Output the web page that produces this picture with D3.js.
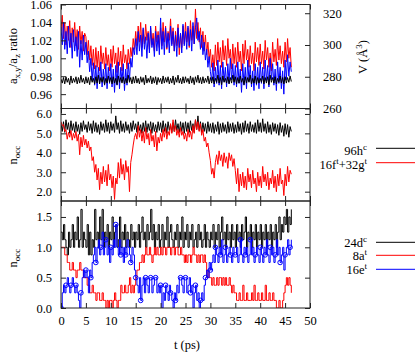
<!DOCTYPE html>
<html>
<head>
<meta charset="utf-8">
<script src="https://cdn.jsdelivr.net/npm/d3@7"></script>
<style>
  html, body { margin: 0; padding: 0; background: #fff; }
  svg { display: block; }
  svg text { font-family: "Liberation Serif", "Times New Roman", serif !important; }
</style>
</head>
<body>
<div id="chart"></div>
<script>
// ── Data (one sample every 0.25 ps, 20 samples = 5 ps per row) ───────────────
const timeStep = 0.25;
const xTicks = [0, 5, 10, 15, 20, 25, 30, 35, 40, 45, 50];

// top panel: lattice ratios (left axis) and volume (right axis)
const ratioTicks = [0.96, 0.98, 1.00, 1.02, 1.04, 1.06];
const volumeTicks = [260, 280, 300, 320];

const ratioRed = [
  1.030, 1.048, 1.022, 1.040, 1.015, 1.036, 1.020, 1.042, 1.012, 1.034, 1.018, 1.040, 1.014, 1.032, 1.010, 1.036, 1.016, 1.030, 1.008, 1.028,
  1.024, 1.004, 1.020, 0.998, 1.014, 0.992, 1.010, 0.988, 1.012, 0.990, 1.008, 0.986, 1.014, 0.994, 1.006, 0.988, 1.012, 0.992, 1.004, 0.986,
  1.010, 0.990, 1.014, 0.994, 1.006, 0.984, 1.012, 0.992, 1.008, 0.986, 1.015, 0.995, 1.004, 0.988, 1.010, 0.994, 1.012, 1.002, 1.022, 1.010,
  1.030, 1.014, 1.036, 1.018, 1.040, 1.012, 1.032, 1.016, 1.038, 1.020, 1.030, 1.010, 1.034, 1.015, 1.028, 1.008, 1.036, 1.018, 1.030, 1.012,
  1.034, 1.014, 1.040, 1.018, 1.036, 1.010, 1.030, 1.020, 1.044, 1.016, 1.034, 1.008, 1.030, 1.014, 1.038, 1.004, 1.028, 1.012, 1.036, 1.016,
  1.040, 1.018, 1.034, 1.012, 1.042, 1.020, 1.036, 1.016, 1.055, 1.022, 1.040, 1.018, 1.034, 1.012, 1.030, 1.008, 1.026, 1.004, 1.018, 0.998,
  1.010, 0.990, 1.004, 0.986, 1.015, 0.992, 1.018, 0.996, 1.012, 0.990, 1.020, 0.998, 1.014, 0.992, 1.022, 1.000, 1.010, 0.988, 1.016, 0.994,
  1.012, 0.990, 1.018, 0.996, 1.008, 0.986, 1.016, 0.994, 1.020, 0.998, 1.010, 0.990, 1.014, 0.994, 1.006, 0.986, 1.018, 0.996, 1.012, 0.992,
  1.016, 0.994, 1.008, 0.988, 1.020, 0.998, 1.012, 0.990, 1.006, 0.986, 1.018, 0.996, 1.010, 0.992, 1.022, 0.998, 1.014, 0.994, 1.008, 0.990,
  1.018, 0.996, 1.022, 1.000, 1.012, 0.990
];

const ratioBlue = [
  1.035, 1.015, 1.040, 1.010, 1.030, 1.005, 1.036, 1.012, 1.028, 1.000, 1.032, 1.008, 1.024, 1.002, 1.030, 0.990, 1.020, 0.998, 1.026, 1.004,
  1.018, 0.995, 1.008, 0.985, 1.000, 0.975, 0.995, 0.970, 0.992, 0.966, 0.990, 0.972, 0.996, 0.968, 0.988, 0.970, 0.994, 0.966, 0.990, 0.972,
  0.994, 0.968, 0.988, 0.962, 0.992, 0.970, 0.996, 0.966, 0.990, 0.974, 0.994, 0.964, 0.988, 0.970, 0.995, 0.975, 1.000, 0.990, 1.012, 1.004,
  1.022, 1.004, 1.030, 1.008, 1.026, 1.002, 1.034, 1.010, 1.024, 1.000, 1.028, 1.006, 1.036, 1.012, 1.022, 1.002, 1.030, 1.008, 1.026, 1.004,
  1.045, 1.010, 1.030, 1.004, 1.034, 1.012, 1.028, 1.006, 1.036, 1.014, 1.030, 1.008, 1.026, 1.002, 1.034, 1.012, 1.028, 1.006, 1.038, 1.014,
  1.030, 1.010, 1.036, 1.014, 1.032, 1.008, 1.040, 1.016, 1.034, 1.045, 1.020, 1.030, 1.010, 1.026, 1.004, 1.018, 0.998, 1.010, 0.990, 1.002,
  0.985, 0.975, 0.995, 0.968, 0.990, 0.972, 0.998, 0.970, 0.992, 0.966, 0.996, 0.974, 0.990, 0.968, 0.994, 0.972, 1.000, 0.976, 0.994, 0.970,
  0.992, 0.968, 0.996, 0.972, 0.988, 0.962, 0.994, 0.970, 0.990, 0.966, 0.998, 0.974, 0.992, 0.968, 0.986, 0.964, 0.994, 0.970, 0.990, 0.966,
  0.996, 0.972, 0.990, 0.966, 0.998, 0.974, 0.992, 0.968, 1.000, 0.976, 0.994, 0.970, 0.988, 0.964, 0.996, 0.972, 0.990, 0.966, 0.986, 0.960,
  0.998, 0.976, 1.004, 0.980, 0.996, 0.985
];

const volumeBlack = [
  278.5, 276.0, 279.5, 275.5, 280.0, 276.5, 279.0, 275.0, 280.5, 276.0, 279.0, 276.5, 280.0, 275.5, 279.5, 276.0, 281.0, 276.5, 279.0, 275.5,
  280.0, 276.0, 279.5, 275.0, 280.5, 276.5, 279.0, 275.5, 280.0, 276.0, 281.0, 275.5, 279.5, 276.5, 280.0, 275.0, 279.0, 276.0, 280.5, 276.5,
  279.5, 275.5, 280.0, 276.0, 279.0, 275.0, 280.5, 276.5, 279.5, 276.0, 280.0, 275.5, 279.0, 276.0, 281.0, 276.5, 279.5, 275.5, 280.0, 276.0,
  280.5, 276.0, 279.0, 275.5, 280.0, 276.5, 279.5, 275.0, 281.0, 276.0, 279.0, 276.5, 280.5, 275.5, 279.5, 276.0, 280.0, 275.0, 279.5, 276.5,
  279.0, 275.5, 280.5, 276.0, 279.5, 276.5, 280.0, 275.5, 279.0, 276.0, 280.5, 275.0, 279.5, 276.5, 281.0, 276.0, 279.0, 275.5, 280.0, 276.0,
  280.0, 276.5, 279.0, 275.5, 280.5, 276.0, 279.5, 275.0, 280.0, 276.5, 281.0, 276.0, 279.5, 275.5, 280.0, 276.0, 279.0, 276.5, 280.5, 275.5,
  279.5, 276.0, 280.0, 275.5, 279.0, 276.5, 281.0, 276.0, 279.5, 275.0, 280.5, 276.5, 279.0, 276.0, 280.0, 275.5, 279.5, 276.0, 281.0, 276.5,
  280.0, 275.5, 279.5, 276.0, 280.5, 276.5, 279.0, 275.0, 280.0, 276.0, 279.5, 276.5, 281.0, 275.5, 279.0, 276.0, 280.5, 275.5, 279.5, 276.0,
  279.0, 276.5, 280.5, 275.5, 279.5, 276.0, 280.0, 275.0, 281.0, 276.5, 279.5, 276.0, 280.0, 275.5, 279.0, 276.5, 280.5, 276.0, 279.5, 275.5,
  280.0, 276.0, 279.5, 276.5, 280.5, 277.0
];

// middle panel: occupation of 96h (black) and 16f+32g (red)
const occMidTicks = [2.0, 3.0, 4.0, 5.0, 6.0];

const occ96h = [
  5.50, 5.10, 5.60, 5.05, 5.70, 5.20, 5.55, 5.00, 5.65, 5.15, 5.50, 5.05, 5.60, 5.10, 5.45, 4.95, 5.55, 5.10, 5.65, 5.20,
  5.45, 5.05, 5.60, 5.15, 5.50, 5.00, 5.65, 5.10, 5.55, 5.05, 5.45, 4.95, 5.60, 5.15, 5.50, 5.05, 5.70, 5.10, 5.55, 5.00,
  5.60, 5.15, 5.50, 5.05, 5.90, 5.20, 5.55, 5.00, 5.65, 5.10, 5.50, 5.05, 5.60, 5.15, 5.45, 5.00, 5.55, 5.10, 5.65, 5.20,
  5.50, 5.05, 5.60, 5.15, 5.45, 5.00, 5.55, 5.10, 5.65, 5.05, 5.50, 5.15, 5.60, 5.00, 5.55, 5.10, 5.45, 5.05, 5.60, 5.15,
  5.55, 5.05, 5.65, 5.10, 5.50, 5.00, 5.60, 5.15, 5.45, 5.05, 5.55, 5.10, 5.70, 5.15, 5.50, 5.05, 5.60, 5.10, 5.55, 5.00,
  5.60, 5.10, 5.55, 5.05, 5.65, 5.15, 5.50, 5.05, 5.70, 5.20, 5.90, 5.15, 5.60, 5.05, 5.55, 5.10, 5.50, 5.00, 5.60, 5.10,
  5.50, 5.05, 5.55, 5.00, 5.45, 5.10, 5.60, 4.95, 5.50, 5.05, 5.55, 5.10, 5.45, 5.00, 5.60, 5.05, 5.50, 5.10, 5.55, 5.00,
  5.45, 5.05, 5.60, 5.10, 5.50, 4.95, 5.55, 5.05, 5.65, 5.10, 5.50, 5.00, 5.60, 5.10, 5.45, 5.05, 5.55, 5.00, 5.70, 5.10,
  5.55, 5.05, 5.75, 5.10, 5.50, 5.00, 5.60, 5.05, 5.45, 4.95, 5.55, 5.10, 5.50, 5.00, 5.45, 4.90, 5.55, 5.05, 5.40, 4.85,
  5.50, 4.95, 5.45, 4.80, 5.35, 5.10
];

const occ16f32g = [
  5.60, 5.40, 5.45, 5.10, 5.20, 4.70, 5.05, 4.80, 5.15, 4.65, 5.00, 4.75, 5.10, 4.60, 4.95, 3.90, 4.80, 4.30, 4.90, 4.40,
  4.70, 4.25, 4.60, 4.10, 4.30, 3.60, 3.80, 3.00, 3.40, 2.60, 3.20, 2.10, 3.00, 2.40, 3.30, 2.50, 3.10, 2.30, 3.40, 2.60,
  2.90, 2.20, 2.80, 1.60, 2.70, 2.40, 3.50, 2.70, 3.70, 2.90, 3.40, 2.60, 3.60, 3.00, 3.30, 2.00, 3.50, 3.90, 4.40, 4.80,
  5.00, 4.70, 5.40, 4.80, 5.20, 4.60, 5.10, 4.50, 5.30, 4.70, 5.00, 4.40, 5.20, 4.60, 4.90, 4.30, 5.10, 4.10, 4.80, 4.50,
  5.00, 4.60, 5.20, 4.80, 5.30, 4.70, 5.10, 4.90, 5.50, 5.00, 5.70, 5.10, 5.40, 4.90, 5.20, 4.80, 5.30, 4.90, 5.10, 4.70,
  5.00, 4.60, 5.20, 4.80, 5.10, 4.70, 5.40, 5.00, 5.70, 5.20, 5.60, 5.10, 5.50, 4.90, 5.20, 4.60, 4.80, 4.30, 4.50, 4.00,
  3.60, 2.90, 3.20, 2.70, 3.50, 3.90, 3.40, 4.10, 3.60, 3.90, 3.30, 4.00, 3.50, 3.80, 3.20, 4.00, 3.60, 3.90, 3.30, 3.70,
  3.10, 2.40, 3.20, 2.00, 2.90, 2.30, 3.00, 2.20, 2.80, 2.10, 3.20, 2.50, 2.90, 2.20, 3.10, 2.40, 2.70, 2.00, 3.00, 2.30,
  2.80, 2.20, 3.30, 2.50, 2.90, 2.30, 3.00, 2.10, 2.70, 2.40, 3.10, 2.20, 2.80, 2.00, 2.90, 2.30, 3.20, 2.40, 2.60, 1.80,
  2.90, 2.30, 3.30, 2.50, 3.10, 2.90
];

// bottom panel: occupation of 24d (black), 8a (red), 16e (blue)
const occLowTicks = [0.0, 0.5, 1.0, 1.5];

const occ24d = [
  1.25, 1.125, 1.375, 1.125, 1.0, 0.875, 1.25, 1.0, 1.125, 1.375, 1.0, 1.25, 1.125, 1.5, 1.0, 1.125, 1.625, 1.0, 1.25, 1.125,
  1.0, 1.375, 0.875, 1.25, 0.875, 1.125, 1.0, 1.625, 1.125, 1.25, 1.0, 1.5, 1.125, 1.625, 1.0, 1.25, 1.125, 1.375, 1.0, 1.25,
  1.125, 1.5, 1.0, 1.25, 1.375, 1.0, 1.125, 1.5, 1.0, 1.25, 1.125, 1.375, 1.0, 1.25, 1.125, 1.0, 1.375, 1.125, 1.25, 1.0,
  1.25, 1.125, 1.375, 1.0, 1.25, 1.5, 1.125, 1.25, 1.0, 1.375, 1.125, 1.25, 1.625, 1.125, 1.375, 1.0, 1.25, 1.125, 1.375, 1.0,
  1.125, 1.375, 1.0, 1.25, 1.125, 1.5, 1.0, 1.25, 1.375, 1.125, 1.0, 1.25, 1.125, 1.375, 1.0, 1.25, 1.125, 1.5, 1.0, 1.25,
  1.125, 1.375, 1.0, 1.25, 1.125, 1.375, 1.0, 1.125, 1.25, 1.0, 1.375, 1.125, 1.25, 1.0, 1.125, 1.375, 1.0, 1.25, 1.125, 1.0,
  1.25, 1.125, 1.375, 1.0, 1.25, 1.125, 1.375, 1.0, 1.25, 1.5, 1.125, 1.25, 1.0, 1.375, 1.125, 1.25, 1.0, 1.375, 1.125, 1.25,
  1.0, 1.375, 1.125, 1.25, 1.0, 1.375, 1.125, 1.25, 1.5, 1.0, 1.25, 1.125, 1.375, 1.0, 1.25, 1.125, 1.375, 1.0, 1.25, 1.125,
  1.375, 1.0, 1.25, 1.125, 1.375, 1.0, 1.25, 1.125, 1.375, 1.0, 1.25, 1.125, 1.375, 1.0, 1.25, 1.5, 1.125, 1.375, 1.25, 1.5,
  1.375, 1.625, 1.25, 1.5, 1.375, 1.625
];

const occ8a = [
  1.0, 1.0, 1.0, 0.875, 0.875, 0.75, 0.75, 0.625, 0.625, 0.75, 0.625, 0.625, 0.5, 0.625, 0.625, 0.75, 0.625, 0.625, 0.5, 0.5,
  0.5, 0.375, 0.375, 0.25, 0.25, 0.375, 0.25, 0.25, 0.125, 0.25, 0.25, 0.125, 0.125, 0.25, 0.125, 0.125, 0.0, 0.125, 0.0, 0.125,
  0.125, 0.0, 0.125, 0.25, 0.125, 0.0, 0.125, 0.125, 0.375, 0.25, 0.25, 0.375, 0.25, 0.25, 0.375, 0.5, 0.25, 0.375, 0.25, 0.375,
  0.5, 0.625, 0.625, 0.75, 0.75, 0.875, 0.75, 0.875, 1.0, 0.875, 0.875, 1.0, 0.875, 0.75, 0.875, 1.0, 0.875, 1.0, 0.875, 0.875,
  1.0, 0.875, 1.0, 1.0, 0.875, 1.0, 1.0, 1.0, 0.875, 1.0, 1.0, 0.875, 1.0, 1.0, 0.875, 0.875, 1.0, 0.875, 0.875, 0.75,
  0.875, 0.75, 0.875, 0.875, 0.75, 0.875, 1.0, 0.875, 0.875, 0.75, 0.875, 0.75, 0.875, 0.875, 0.75, 0.875, 0.75, 0.5, 0.625, 0.5,
  0.5, 0.375, 0.5, 0.375, 0.375, 0.5, 0.375, 0.5, 0.5, 0.375, 0.5, 0.375, 0.5, 0.375, 0.375, 0.5, 0.375, 0.25, 0.375, 0.25,
  0.25, 0.125, 0.125, 0.25, 0.125, 0.125, 0.375, 0.125, 0.125, 0.25, 0.125, 0.125, 0.125, 0.25, 0.125, 0.375, 0.125, 0.125, 0.25, 0.125,
  0.125, 0.25, 0.125, 0.125, 0.375, 0.125, 0.125, 0.25, 0.125, 0.125, 0.25, 0.125, 0.125, 0.0, 0.0, 0.125, 0.0, 0.0, 0.125, 0.25,
  0.375, 0.5, 0.375, 0.5, 0.375, 0.25
];

const occ16e = [
  0.0, 0.25, 0.375, 0.25, 0.375, 0.5, 0.375, 0.25, 0.375, 0.5, 0.375, 0.25, 0.375, 0.25, 0.125, 0.0, 0.25, 0.5, 0.625, 0.5,
  0.625, 0.5, 0.25, 0.625, 0.5, 0.75, 0.875, 1.0, 0.75, 1.0, 1.125, 0.875, 1.0, 1.25, 0.875, 1.0, 1.125, 0.875, 1.0, 0.75,
  1.0, 0.875, 1.125, 1.0, 1.375, 1.0, 0.875, 1.125, 0.875, 1.0, 0.75, 1.0, 0.875, 1.125, 1.0, 0.875, 0.75, 1.0, 0.875, 0.625,
  0.5, 0.375, 0.25, 0.5, 0.125, 0.375, 0.5, 0.25, 0.5, 0.375, 0.25, 0.5, 0.5, 0.25, 0.375, 0.5, 0.5, 0.25, 0.375, 0.25,
  0.375, 0.0, 0.25, 0.125, 0.375, 0.25, 0.125, 0.375, 0.25, 0.125, 0.0, 0.25, 0.125, 0.375, 0.25, 0.5, 0.5, 0.375, 0.25, 0.5,
  0.5, 0.25, 0.375, 0.5, 0.25, 0.375, 0.0, 0.25, 0.375, 0.125, 0.25, 0.0, 0.125, 0.25, 0.125, 0.375, 0.5, 0.625, 0.5, 0.75,
  0.625, 0.75, 0.875, 0.75, 1.0, 0.875, 0.75, 1.0, 0.875, 1.125, 0.75, 0.875, 1.0, 0.75, 0.875, 1.0, 0.875, 0.75, 1.0, 0.875,
  0.875, 1.0, 0.75, 0.875, 1.125, 0.875, 0.75, 1.0, 0.875, 1.0, 0.75, 0.875, 1.125, 0.875, 1.0, 0.75, 0.875, 1.0, 0.875, 0.75,
  1.0, 0.875, 0.75, 1.0, 0.875, 1.125, 0.875, 0.75, 1.0, 0.875, 1.0, 0.75, 0.875, 1.125, 0.875, 1.0, 0.75, 0.875, 1.0, 0.625,
  0.875, 1.0, 1.125, 0.875, 1.0, 1.125
];

// ── Layout ─────────────────────────────────────────────────────────────────
const width = 415, height = 353;
const plotLeft = 61, plotRight = 310;
const panels = {
  top: { y0: 4.5, y1: 108.5 },
  mid: { y0: 108.5, y1: 201 },
  low: { y0: 201, y1: 308 }
};
const fontSize = 12.5;
const serif = "Liberation Serif, Times New Roman, serif";
const tickLen = 5;

const svg = d3.select("#chart").append("svg")
  .attr("width", width).attr("height", height)
  .attr("font-family", serif);

const x = d3.scaleLinear().domain([0, 50]).range([plotLeft, plotRight]);
const yRatio  = d3.scaleLinear().domain([0.944, 1.06]).range([panels.top.y1, panels.top.y0]);
const yVolume = d3.scaleLinear().domain([260, 325.5]).range([panels.top.y1, panels.top.y0]);
const yMid    = d3.scaleLinear().domain([1.52, 6.28]).range([panels.mid.y1, panels.mid.y0]);
const yLow    = d3.scaleLinear().domain([0, 1.763]).range([panels.low.y1, panels.low.y0]);

const timeOf = i => i * timeStep;

// ── Helpers ────────────────────────────────────────────────────────────────
function clipFor(id, p) {
  svg.append("clipPath").attr("id", id)
    .append("rect")
    .attr("x", plotLeft).attr("y", p.y0)
    .attr("width", plotRight - plotLeft).attr("height", p.y1 - p.y0);
  return `url(#${id})`;
}

function styleAxis(g) {
  g.attr("font-family", serif);
  g.select(".domain").remove();
  g.selectAll("line").attr("stroke", "#222").attr("stroke-width", 1);
  g.selectAll("text").attr("fill", "#000").attr("font-size", fontSize).attr("font-family", serif);
}

function drawSeries(layer, values, yScale, color, curve) {
  const line = d3.line()
    .x((d, i) => x(timeOf(i)))
    .y(d => yScale(d))
    .curve(curve || d3.curveLinear);
  layer.append("path")
    .datum(values)
    .attr("fill", "none")
    .attr("stroke", color)
    .attr("stroke-width", 1)
    .attr("d", line);
}

function frame(p, yScale, yTicks, yFormat, showXLabels, rightScale, rightTicks) {
  const g = svg.append("g");

  // left axis with labels
  g.append("g").attr("transform", `translate(${plotLeft},0)`)
    .call(d3.axisLeft(yScale).tickValues(yTicks).tickSize(-tickLen).tickPadding(9).tickFormat(yFormat))
    .call(styleAxis);

  // right axis: mirror ticks or the volume scale
  if (rightScale) {
    g.append("g").attr("transform", `translate(${plotRight},0)`)
      .call(d3.axisRight(rightScale).tickValues(rightTicks).tickSize(-tickLen).tickPadding(13).tickFormat(d3.format("d")))
      .call(styleAxis);
  } else {
    g.append("g").attr("transform", `translate(${plotRight},0)`)
      .call(d3.axisRight(yScale).tickValues(yTicks).tickSize(-tickLen).tickFormat(""))
      .call(styleAxis);
  }

  // top and bottom x ticks
  g.append("g").attr("transform", `translate(0,${p.y0})`)
    .call(d3.axisTop(x).tickValues(xTicks).tickSize(-tickLen).tickFormat(""))
    .call(styleAxis);
  g.append("g").attr("transform", `translate(0,${p.y1})`)
    .call(d3.axisBottom(x).tickValues(xTicks).tickSize(-tickLen).tickPadding(8)
      .tickFormat(showXLabels ? d3.format("d") : ""))
    .call(styleAxis);

  g.append("rect")
    .attr("x", plotLeft).attr("y", p.y0)
    .attr("width", plotRight - plotLeft).attr("height", p.y1 - p.y0)
    .attr("fill", "none").attr("stroke", "#222").attr("stroke-width", 1);
}

// ── Top panel ──────────────────────────────────────────────────────────────
const topLayer = svg.append("g").attr("clip-path", clipFor("clip-top", panels.top));
drawSeries(topLayer, ratioRed, yRatio, "#ff0000");
drawSeries(topLayer, ratioBlue, yRatio, "#0000ff");
drawSeries(topLayer, volumeBlack, yVolume, "#000000");
frame(panels.top, yRatio, ratioTicks, d3.format(".2f"), false, yVolume, volumeTicks);

// ── Middle panel ───────────────────────────────────────────────────────────
const midLayer = svg.append("g").attr("clip-path", clipFor("clip-mid", panels.mid));
drawSeries(midLayer, occ96h, yMid, "#000000");
drawSeries(midLayer, occ16f32g, yMid, "#ff0000");
frame(panels.mid, yMid, occMidTicks, d3.format(".1f"), false);

// ── Bottom panel ───────────────────────────────────────────────────────────
const lowLayer = svg.append("g").attr("clip-path", clipFor("clip-low", panels.low));
drawSeries(lowLayer, occ24d, yLow, "#000000", d3.curveStepAfter);
drawSeries(lowLayer, occ8a, yLow, "#ff0000", d3.curveStepAfter);
drawSeries(lowLayer, occ16e, yLow, "#0000ff", d3.curveStepAfter);

// circle markers on 16e, one per ps
lowLayer.selectAll("circle.mark")
  .data(occ16e.map((v, i) => ({ t: timeOf(i), v })).filter(d => Number.isInteger(d.t)))
  .join("circle")
  .attr("class", "mark")
  .attr("cx", d => x(d.t)).attr("cy", d => yLow(d.v))
  .attr("r", 2.3)
  .attr("fill", "none").attr("stroke", "#0000ff").attr("stroke-width", 1);

frame(panels.low, yLow, occLowTicks, d3.format(".1f"), true);

// ── Axis titles ────────────────────────────────────────────────────────────
function rotatedLabel(cx, cy, parts) {
  const t = svg.append("text")
    .attr("transform", `translate(${cx},${cy}) rotate(-90)`)
    .attr("text-anchor", "middle")
    .attr("font-size", fontSize)
    .attr("fill", "#000");
  parts.forEach(([txt, dy, size]) => {
    t.append("tspan").attr("dy", dy).attr("font-size", size || fontSize).text(txt);
  });
}

rotatedLabel(17, 56, [["a", 0], ["x,y", 3, 9], ["/a", -3], ["z", 3, 9], [" ratio", -3]]);
rotatedLabel(367, 57, [["V (Å", 0], ["3", -5, 9], [")", 5]]);
rotatedLabel(17, 155, [["n", 0], ["occ", 3, 9]]);
rotatedLabel(17, 258, [["n", 0], ["occ", 3, 9]]);

svg.append("text")
  .attr("x", 187).attr("y", 349)
  .attr("text-anchor", "middle")
  .attr("font-size", fontSize)
  .text("t (ps)");

// ── Legends ────────────────────────────────────────────────────────────────
const legendEntries = [
  { parts: [["96h", 0], ["c", -5, 9]], color: "#000000", lineY: 148.3, textY: 155 },
  { parts: [["16f", 0], ["t", -5, 9], ["+32g", 5], ["t", -5, 9]], color: "#ff0000", lineY: 162.7, textY: 169 },
  { parts: [["24d", 0], ["c", -5, 9]], color: "#000000", lineY: 242.3, textY: 247 },
  { parts: [["8a", 0], ["t", -5, 9]], color: "#ff0000", lineY: 255.3, textY: 260 },
  { parts: [["16e", 0], ["t", -5, 9]], color: "#0000ff", lineY: 269.3, textY: 274 }
];

legendEntries.forEach(e => {
  const t = svg.append("text")
    .attr("x", 367).attr("y", e.textY)
    .attr("text-anchor", "end")
    .attr("font-size", fontSize);
  e.parts.forEach(([txt, dy, size]) => {
    t.append("tspan").attr("dy", dy).attr("font-size", size || fontSize).text(txt);
  });
  svg.append("line")
    .attr("x1", 376).attr("x2", 415)
    .attr("y1", e.lineY).attr("y2", e.lineY)
    .attr("stroke", e.color).attr("stroke-width", 1);
});
</script>
</body>
</html>
